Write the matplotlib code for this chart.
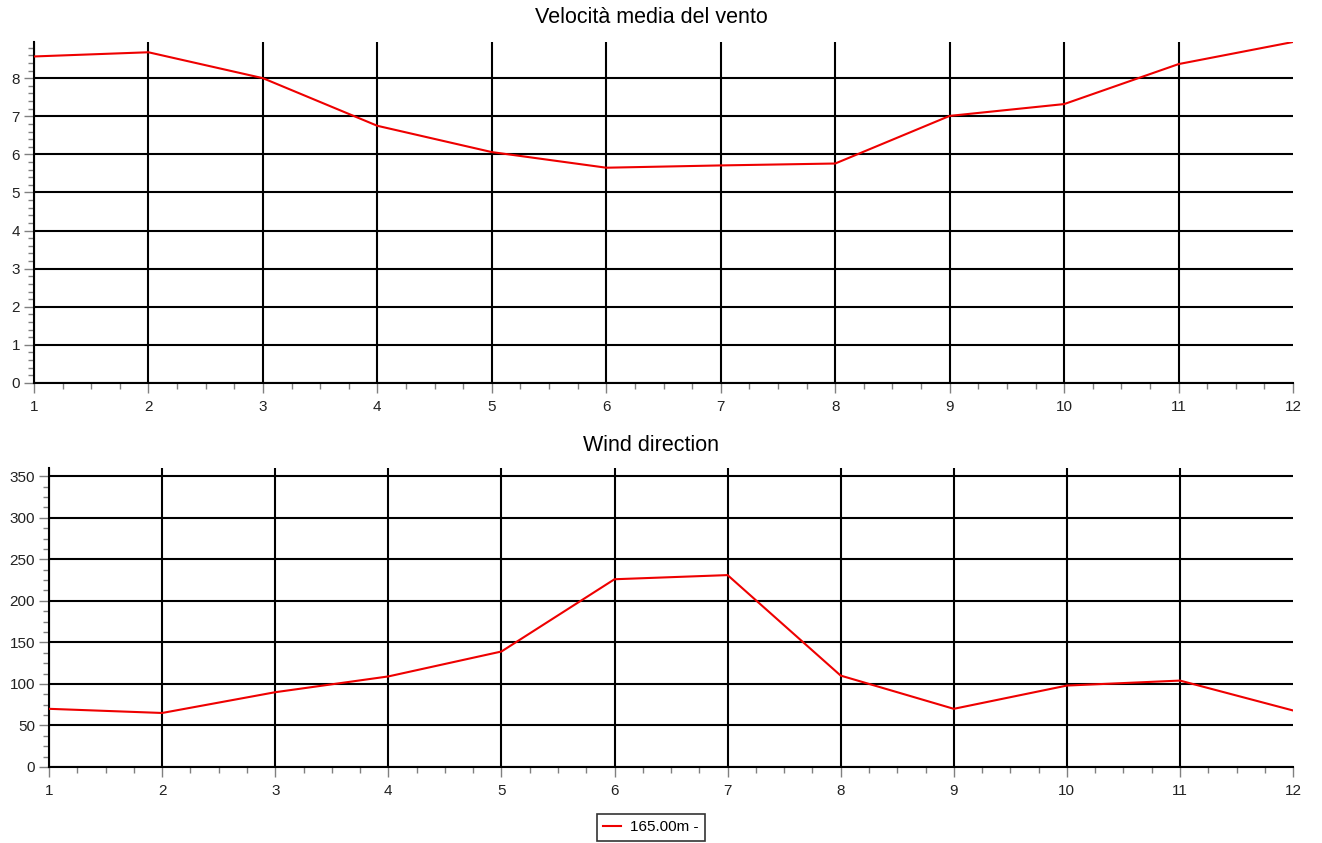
import numpy as np
import matplotlib
matplotlib.use('Agg')
import matplotlib.pyplot as plt
from matplotlib.ticker import MultipleLocator, AutoMinorLocator

plt.rcParams['font.family'] = ['Liberation Sans', 'DejaVu Sans']

months = [1, 2, 3, 4, 5, 6, 7, 8, 9, 10, 11, 12]
speed = [8.57, 8.68, 8.0, 6.75, 6.06, 5.65, 5.71, 5.76, 7.01, 7.32, 8.37, 8.95]
direction = [70, 65, 90, 109, 139, 226, 231, 110, 70, 98, 104, 68]
series_label = '165.00m -'

fig = plt.figure(figsize=(13.22, 8.43), dpi=100)

ax1 = fig.add_axes([0.0257, 0.5457, 0.9524, 0.4045])
ax2 = fig.add_axes([0.0371, 0.0902, 0.9410, 0.3547])


def style_ax(ax, ymax, ystep, nminor):
    ax.set_xlim(1, 12)
    ax.set_ylim(0, ymax)
    ax.xaxis.set_major_locator(MultipleLocator(1))
    ax.xaxis.set_minor_locator(AutoMinorLocator(4))
    ax.yaxis.set_major_locator(MultipleLocator(ystep))
    ax.yaxis.set_minor_locator(AutoMinorLocator(nminor))
    for s in ['top', 'right']:
        ax.spines[s].set_visible(False)
    for s in ['left', 'bottom']:
        ax.spines[s].set_linewidth(1.5)
        ax.spines[s].set_color('black')
    ax.grid(True, axis='y', which='major', color='black', linewidth=1.5)
    # vertical grid lines on every month except the last one
    ax.vlines(months[:-1], 0, 1, transform=ax.get_xaxis_transform(),
              color='black', linewidth=1.5, zorder=1)
    ax.set_axisbelow(True)
    ax.tick_params(which='major', length=7, width=1.0, color='#808080',
                   labelsize=11, labelcolor='#222222', pad=3)
    ax.tick_params(axis='x', which='major', pad=5)
    ax.tick_params(which='minor', length=4, width=1.0, color='#808080')


style_ax(ax1, 8.95, 1, 5)
style_ax(ax2, 360, 50, 4)

ln, = ax1.plot(months, speed, color='#ee0000', linewidth=1.5, zorder=3)
ax2.plot(months, direction, color='#ee0000', linewidth=1.5, zorder=3)

fig.text(0.4924, 0.979, 'Velocità media del vento', ha='center', va='center',
         fontsize=15.5)
fig.text(0.4924, 0.472, 'Wind direction', ha='center', va='center',
         fontsize=15.5)

leg = fig.legend([ln], [series_label], loc='center',
                 bbox_to_anchor=(0.4924, 0.0184), fontsize=11,
                 frameon=True, fancybox=False, handlelength=1.2,
                 borderpad=0.4, handletextpad=0.6)
leg.get_frame().set_edgecolor('black')
leg.get_frame().set_linewidth(1.2)

fig.savefig('out.png', dpi=100)
